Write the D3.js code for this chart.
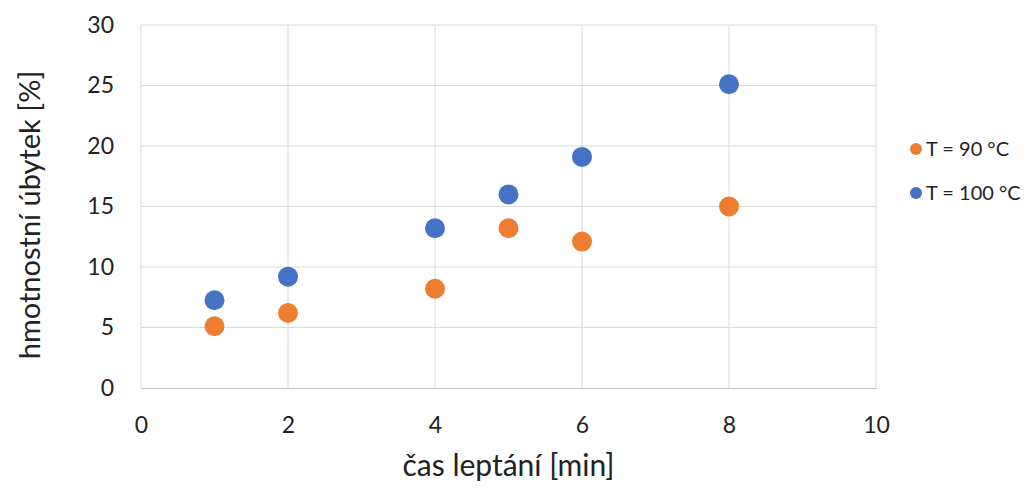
<!DOCTYPE html>
<html>
<head>
<meta charset="utf-8">
<script src="https://cdn.jsdelivr.net/npm/d3@7"></script>
<style>
  body { margin: 0; background: #fff; }
  text { font-family: Lato, "Open Sans", sans-serif; fill: #222; }
</style>
</head>
<body>
<script>
// data
var times = [1, 2, 4, 5, 6, 8];
var loss90 = [5.1, 6.2, 8.2, 13.2, 12.1, 15.0];
var loss100 = [7.25, 9.2, 13.2, 16.0, 19.1, 25.1];
var seriesNames = ["T = 90 °C", "T = 100 °C"];
var seriesColors = ["#ED7D31", "#4472C4"];
var xTicks = [0, 2, 4, 6, 8, 10];
var yTicks = [0, 5, 10, 15, 20, 25, 30];

var width = 1032, height = 492;
var margin = {left: 141, right: 156, top: 25, bottom: 104};

var svg = d3.select("body").append("svg")
    .attr("width", width)
    .attr("height", height);

var x = d3.scaleLinear().domain([0, 10]).range([margin.left, width - margin.right]);
var y = d3.scaleLinear().domain([0, 30]).range([height - margin.bottom, margin.top]);

// vertical grid
svg.append("g")
    .selectAll("line")
    .data(xTicks)
    .enter().append("line")
    .attr("x1", d => x(d)).attr("x2", d => x(d))
    .attr("y1", y(0)).attr("y2", y(30))
    .attr("stroke", "#d9d9d9").attr("stroke-width", 1);

// horizontal grid
svg.append("g")
    .selectAll("line")
    .data(yTicks.slice(1))
    .enter().append("line")
    .attr("x1", x(0)).attr("x2", x(10))
    .attr("y1", d => y(d)).attr("y2", d => y(d))
    .attr("stroke", "#d9d9d9").attr("stroke-width", 1);

// x axis
var xAxis = svg.append("g")
    .attr("transform", "translate(0," + y(0) + ")")
    .call(d3.axisBottom(x).tickValues(xTicks).tickSize(0).tickPadding(29));
xAxis.select(".domain").attr("stroke", "#bfbfbf").attr("stroke-width", 1.2);
xAxis.selectAll("text").style("font-size", "23px").attr("fill", "#222").style("font-family", "Lato, sans-serif");

// y axis
var yAxis = svg.append("g")
    .attr("transform", "translate(" + x(0) + ",0)")
    .call(d3.axisLeft(y).tickValues(yTicks).tickSize(0).tickPadding(27));
yAxis.select(".domain").remove();
yAxis.selectAll("text").style("font-size", "23px").attr("fill", "#222").style("font-family", "Lato, sans-serif");

// axis titles
svg.append("text")
    .attr("x", (x(0) + x(10)) / 2)
    .attr("y", 476)
    .attr("text-anchor", "middle")
    .style("font-size", "30px")
    .text("čas leptání [min]");

svg.append("text")
    .attr("transform", "translate(40," + 215 + ") rotate(-90)")
    .attr("text-anchor", "middle")
    .style("font-size", "29px")
    .text("hmotnostní úbytek [%]");

// points
var series = [loss90, loss100];
series.forEach(function (vals, i) {
    svg.append("g")
        .selectAll("circle")
        .data(vals)
        .enter().append("circle")
        .attr("cx", (d, j) => x(times[j]))
        .attr("cy", d => y(d))
        .attr("r", 10)
        .attr("fill", seriesColors[i]);
});

// legend
var legend = svg.append("g")
    .selectAll("g")
    .data(seriesNames)
    .enter().append("g")
    .attr("transform", (d, i) => "translate(916," + (149 + i * 44) + ")");
legend.append("circle")
    .attr("r", 6)
    .attr("fill", (d, i) => seriesColors[i]);
legend.append("text")
    .attr("x", 10)
    .attr("dy", "0.35em")
    .style("font-size", "20px")
    .text(d => d);
</script>
</body>
</html>
